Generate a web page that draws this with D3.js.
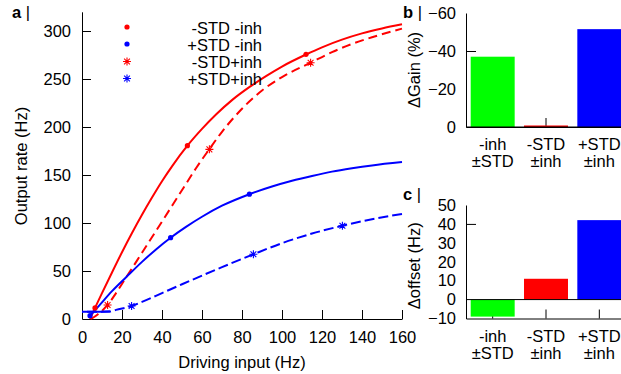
<!DOCTYPE html>
<html>
<head>
<meta charset="utf-8">
<script src="https://cdn.jsdelivr.net/npm/d3@7"></script>
<style>
  body { margin: 0; background: #fff; }
  svg { display: block; font-family: "Liberation Sans", Arial, sans-serif; }
  text { fill: #000; }
</style>
</head>
<body>
<svg id="chart" width="621" height="374"></svg>
<script>
// ---------- Panel a data ----------
const xTicksA = [0, 20, 40, 60, 80, 100, 120, 140, 160];
const yTicksA = [0, 50, 100, 150, 200, 250, 300];

// -STD -inh (solid red)
const redSolid = [[4,0],[6.5,11.5],[10,27],[15,48.5],[20,69.5],[25,89.5],[30,108.5],[35,126.5],[40,143.5],[45,159],[52.7,180.5],[60,198],[67,213],[75,228],[84,242],[92,253],[100,263],[112,275.5],[120,283],[130,291],[140,297.5],[150,302.7],[160,307]];
// -STD+inh (dashed red)
const redDashed = [[4.5,0],[8,5],[12.8,14.6],[17,27],[22.3,44],[30,69],[40,101.5],[50.7,136.5],[57,157],[63.7,177],[70,195],[80,219],[90,238],[100,252],[114.3,267],[125,278],[135,286.5],[145,293.5],[160,302.5]];
// +STD -inh (solid blue)
const blueSolid = [[3.3,2],[6,8],[9,15],[15,29],[22.3,44],[30,59.5],[37,72.5],[44.3,84.7],[52,96],[60,106.5],[70,118],[83.7,130],[95,138],[105,144],[115,149],[125,153.5],[135,157],[145,160],[160,163.5]];
// +STD+inh (dashed blue)
const blueDashed = [[0,7.5],[7,7.6],[14,7.8],[17,9.5],[24.8,13.5],[30,17.8],[40,27],[50,36.2],[60,45.2],[70,54],[85.7,67.4],[100,79],[115,89],[130.2,97.2],[145,104],[160,109.4]];

// markers
const redDots = [[6.5,11.5],[52.7,180.5],[112,275.7]];
const blueDots = [[4,3.5],[44.3,84.7],[83.7,130]];
const redStars = [[12.8,14.6],[63.7,176.7],[114.3,267]];
const blueStars = [[24.8,13.5],[85.7,67.4],[130.2,97.2]];

const legendLabels = ["-STD -inh", "+STD -inh", "-STD+inh", "+STD+inh"];

// ---------- Panels b, c data ----------
const categories = ["-inh\n±STD", "-STD\n±inh", "+STD\n±inh"];
const gainValues = [-37, -0.8, -51.5];
const offsetValues = [-9, 11, 42];
const gainTicks = [0, -20, -40, -60];
const gainTickMarks = [-40];
const offsetTicks = [-10, 0, 10, 20, 30, 40, 50];
const offsetTickMarks = [40];

const barColors = ["#00ff00", "#ff0000", "#0000ff"];

const svg = d3.select("#chart");
const FS = 16.5;

// ---------- Panel a ----------
const xA = d3.scaleLinear().domain([0, 160]).range([82, 402]);
const yA = d3.scaleLinear().domain([0, 320]).range([319, 11.8]);

const gA = svg.append("g");
const axX = gA.append("g").attr("transform", `translate(0,${yA(0)})`)
  .call(d3.axisBottom(xA).tickValues(xTicksA).tickSize(-9).tickSizeOuter(0).tickPadding(12).tickFormat(d3.format("d")));
const axY = gA.append("g").attr("transform", `translate(${xA(0)},0)`)
  .call(d3.axisLeft(yA).tickValues(yTicksA).tickSize(-9).tickSizeOuter(0).tickPadding(11).tickFormat(d3.format("d")));
[axX, axY].forEach(a => {
  a.selectAll("text").style("font-size", FS + "px").attr("fill", "#000");
  a.selectAll("line,path").attr("stroke", "#000");
});
axY.selectAll(".tick").filter(d => d === 0).select("line").remove();

gA.append("text").attr("x", 242).attr("y", 368).attr("text-anchor", "middle")
  .style("font-size", FS + "px").text("Driving input (Hz)");
gA.append("text").attr("transform", "translate(27,166) rotate(-90)").attr("text-anchor", "middle")
  .style("font-size", FS + "px").text("Output rate (Hz)");

const line = d3.line().x(d => xA(d[0])).y(d => yA(d[1])).curve(d3.curveMonotoneX);

gA.append("path").datum(redSolid).attr("d", line).attr("fill", "none").attr("stroke", "#ff0000").attr("stroke-width", 2);
gA.append("path").datum(redDashed).attr("d", line).attr("fill", "none").attr("stroke", "#ff0000").attr("stroke-width", 2).attr("stroke-dasharray", "9,5");
gA.append("path").datum(blueSolid).attr("d", line).attr("fill", "none").attr("stroke", "#0000ff").attr("stroke-width", 2);
gA.append("path").datum(blueDashed).attr("d", line).attr("fill", "none").attr("stroke", "#0000ff").attr("stroke-width", 2)
  .attr("stroke-dasharray", "10,4").attr("stroke-dashoffset", 9);
gA.append("path").datum(blueDashed.filter(d => d[0] <= 14.5)).attr("d", line).attr("fill", "none").attr("stroke", "#0000ff").attr("stroke-width", 2);

const starPath = "M-4,0L4,0M0,-4L0,4M-2.9,-2.9L2.9,2.9M-2.9,2.9L2.9,-2.9";
function dots(data, color) {
  gA.selectAll(null).data(data).enter().append("circle")
    .attr("cx", d => xA(d[0])).attr("cy", d => yA(d[1])).attr("r", 2.6).attr("fill", color);
}
function stars(data, color) {
  gA.selectAll(null).data(data).enter().append("path")
    .attr("transform", d => `translate(${xA(d[0])},${yA(d[1])})`)
    .attr("d", starPath).attr("stroke", color).attr("stroke-width", 1.1).attr("fill", "none");
}
dots(redDots, "#ff0000");
dots(blueDots, "#0000ff");
stars(redStars, "#ff0000");
stars(blueStars, "#0000ff");

// legend
const legColors = ["#ff0000", "#0000ff", "#ff0000", "#0000ff"];
const legTypes = ["dot", "dot", "star", "star"];
legendLabels.forEach((lab, i) => {
  const by = 34 + i * 17;
  if (legTypes[i] === "dot") {
    gA.append("circle").attr("cx", 127).attr("cy", by - 7).attr("r", 2.6).attr("fill", legColors[i]);
  } else {
    gA.append("path").attr("transform", `translate(127,${by - 6.5})`).attr("d", starPath)
      .attr("stroke", legColors[i]).attr("stroke-width", 1.1).attr("fill", "none");
  }
  gA.append("text").attr("x", 262).attr("y", by).attr("text-anchor", "end").style("font-size", FS + "px").text(lab);
});

// panel labels
function panelLabel(x, y, letter) {
  const t = svg.append("text").attr("x", x).attr("y", y).style("font-size", FS + "px");
  t.append("tspan").style("font-weight", "bold").text(letter);
  t.append("tspan").text(" |");
}
panelLabel(12, 18, "a");
panelLabel(403, 18, "b");
panelLabel(403, 200, "c");

// ---------- Panel b ----------
const xB = d3.scaleBand().domain(categories).range([466, 626]).paddingInner(0.175).paddingOuter(0.088);
const yB = d3.scaleLinear().domain([0, -60]).range([127, 13]);
const gB = svg.append("g");

const bxTicks = gB.append("g").attr("transform", `translate(0,${yB(0)})`)
  .call(d3.axisBottom(xB).tickSize(-9).tickSizeOuter(0).tickFormat(""));
const byAx = gB.append("g").attr("transform", `translate(466,0)`)
  .call(d3.axisLeft(yB).tickValues(gainTicks).tickSize(0).tickSizeOuter(0).tickPadding(10).tickFormat(d3.format("d")));
const byMarks = gB.append("g").attr("transform", `translate(466,0)`)
  .call(d3.axisLeft(yB).tickValues(gainTickMarks).tickSize(-10).tickSizeOuter(0).tickFormat(""));
byMarks.select(".domain").remove();
[bxTicks, byAx, byMarks].forEach(a => {
  a.selectAll("text").style("font-size", FS + "px").attr("fill", "#000");
  a.selectAll("line,path").attr("stroke", "#000");
});

gB.selectAll(null).data(gainValues).enter().append("rect")
  .attr("x", (d, i) => xB(categories[i])).attr("width", xB.bandwidth())
  .attr("y", d => yB(d)).attr("height", d => yB(0) - yB(d))
  .attr("fill", (d, i) => barColors[i]);
gB.append("line").attr("x1", 466).attr("x2", 621).attr("y1", yB(0)).attr("y2", yB(0)).attr("stroke", "#000");

gB.append("text").attr("transform", `translate(420,${(yB(0) + yB(-60)) / 2}) rotate(-90)`).attr("text-anchor", "middle")
  .style("font-size", FS + "px").text("ΔGain (%)");

function catLabels(g, scale, y1) {
  categories.forEach(c => {
    const parts = c.split("\n");
    const cx = scale(c) + scale.bandwidth() / 2;
    const t = g.append("text").attr("text-anchor", "middle").style("font-size", FS + "px");
    t.append("tspan").attr("x", cx).attr("y", y1).text(parts[0]);
    t.append("tspan").attr("x", cx).attr("y", y1 + 17).text(parts[1]);
  });
}
catLabels(gB, xB, 150);

// ---------- Panel c ----------
const yC = d3.scaleLinear().domain([-10, 50]).range([318.5, 205]);
const gC = svg.append("g");
const cxTicks = gC.append("g").attr("transform", `translate(0,${yC(-10)})`)
  .call(d3.axisBottom(xB).tickSize(-9).tickSizeOuter(0).tickFormat(""));
const cyAx = gC.append("g").attr("transform", `translate(466,0)`)
  .call(d3.axisLeft(yC).tickValues(offsetTicks).tickSize(0).tickSizeOuter(0).tickPadding(10).tickFormat(d3.format("d")));
const cyMarks = gC.append("g").attr("transform", `translate(466,0)`)
  .call(d3.axisLeft(yC).tickValues(offsetTickMarks).tickSize(-10).tickSizeOuter(0).tickFormat(""));
cyMarks.select(".domain").remove();
[cxTicks, cyAx, cyMarks].forEach(a => {
  a.selectAll("text").style("font-size", FS + "px").attr("fill", "#000");
  a.selectAll("line,path").attr("stroke", "#000");
});

gC.selectAll(null).data(offsetValues).enter().append("rect")
  .attr("x", (d, i) => xB(categories[i])).attr("width", xB.bandwidth())
  .attr("y", d => yC(Math.max(0, d))).attr("height", d => Math.abs(yC(0) - yC(d)))
  .attr("fill", (d, i) => barColors[i]);
gC.append("line").attr("x1", 466).attr("x2", 621).attr("y1", yC(0)).attr("y2", yC(0)).attr("stroke", "#000");

gC.append("text").attr("transform", `translate(420,${(yC(-10) + yC(50)) / 2 + 4}) rotate(-90)`).attr("text-anchor", "middle")
  .style("font-size", FS + "px").text("Δoffset (Hz)");
catLabels(gC, xB, 342);
</script>
</body>
</html>
